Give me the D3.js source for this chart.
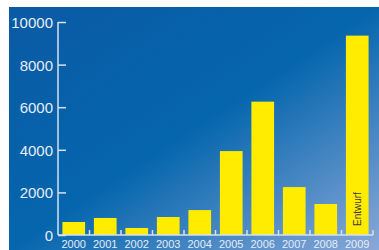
<!DOCTYPE html>
<html>
<head>
<meta charset="utf-8">
<script src="https://cdn.jsdelivr.net/npm/d3@7"></script>
<style>
  body { margin: 0; background: #fff; }
  text { font-family: "Liberation Sans", Arial, sans-serif; }
</style>
</head>
<body>
<div class="chart"></div>
<script>
var svgWidth = 379;
var svgHeight = 250;

// data
var years = ["2000", "2001", "2002", "2003", "2004", "2005", "2006", "2007", "2008", "2009"];
var values = [610, 800, 330, 845, 1170, 3940, 6260, 2250, 1455, 9360];
var yTicks = [0, 2000, 4000, 6000, 8000, 10000];
var barNotes = ["", "", "", "", "", "", "", "", "", "Entwurf"];

var margin = { top: 22, right: 6, bottom: 15, left: 58 };
var width = svgWidth - margin.left - margin.right;
var height = svgHeight - margin.top - margin.bottom;

var svg = d3.select(".chart")
  .append("svg")
  .attr("width", svgWidth)
  .attr("height", svgHeight);

var defs = svg.append("defs");
var grad = defs.append("linearGradient")
  .attr("id", "bg")
  .attr("x1", "0").attr("y1", "0")
  .attr("x2", "1").attr("y2", "1");
grad.append("stop").attr("offset", "0%").attr("stop-color", "#0a5aa4");
grad.append("stop").attr("offset", "50%").attr("stop-color", "#0566ad");
grad.append("stop").attr("offset", "100%").attr("stop-color", "#8aa8d8");

// blue panel
svg.append("rect")
  .attr("x", 9)
  .attr("y", 7)
  .attr("width", svgWidth - 9)
  .attr("height", svgHeight - 7)
  .attr("fill", "url(#bg)");

var chartGroup = svg.append("g")
  .attr("transform", `translate(${margin.left}, ${margin.top})`);

var xScale = d3.scaleBand()
  .domain(years)
  .range([0, width])
  .paddingInner(0.28)
  .paddingOuter(0.14);

var yScale = d3.scaleLinear()
  .domain([0, 10000])
  .range([height, 0]);

var axisColor = "#d6e0ee";

// bars
chartGroup.selectAll(".bar")
  .data(values)
  .enter()
  .append("rect")
  .attr("class", "bar")
  .attr("x", (d, i) => xScale(years[i]))
  .attr("y", d => yScale(d))
  .attr("width", xScale.bandwidth())
  .attr("height", d => height - yScale(d))
  .attr("fill", "#ffec00");

// note inside bar
chartGroup.selectAll(".note")
  .data(barNotes)
  .enter()
  .append("text")
  .attr("class", "note")
  .attr("transform", (d, i) => `translate(${xScale(years[i]) + xScale.bandwidth() / 2 + 3.5}, ${height - 9}) rotate(-90)`)
  .attr("font-size", "10px")
  .attr("fill", "#3a3a3a")
  .text(d => d);

// y axis
var leftAxis = d3.axisRight(yScale)
  .tickValues(yTicks)
  .tickSize(8)
  .tickFormat(d3.format("d"));

var yAxis = chartGroup.append("g").call(leftAxis);
yAxis.select(".domain").remove();
yAxis.append("line")
  .attr("x1", 0).attr("x2", 0)
  .attr("y1", yScale(10000)).attr("y2", height)
  .attr("stroke", axisColor)
  .attr("stroke-width", 1.5);
yAxis.selectAll(".tick line").attr("stroke", axisColor).attr("stroke-width", 1.5);
yAxis.selectAll(".tick text")
  .attr("x", -5)
  .attr("text-anchor", "end")
  .attr("dy", "0.36em")
  .attr("font-size", "15px")
  .attr("fill", "#e6edf7");

// x axis: baseline with small upward ticks between the bands
var xAxis = chartGroup.append("g")
  .attr("transform", `translate(0, ${height})`);
xAxis.append("line")
  .attr("x1", 0).attr("x2", width)
  .attr("y1", 0).attr("y2", 0)
  .attr("stroke", axisColor)
  .attr("stroke-width", 1.5);

var step = xScale.step();
var bounds = years.map((d, i) => xScale(d) - xScale.paddingInner() * step / 2).slice(1).concat([width]);
xAxis.selectAll(".xtick")
  .data(bounds)
  .enter()
  .append("line")
  .attr("x1", d => d).attr("x2", d => d)
  .attr("y1", 0).attr("y2", -5)
  .attr("stroke", axisColor)
  .attr("stroke-width", 1.5);

xAxis.selectAll(".xlabel")
  .data(years)
  .enter()
  .append("text")
  .attr("x", d => xScale(d) + xScale.bandwidth() / 2)
  .attr("y", 13)
  .attr("text-anchor", "middle")
  .attr("font-size", "11px")
  .attr("fill", "#e6edf7")
  .text(d => d);
</script>
</body>
</html>
